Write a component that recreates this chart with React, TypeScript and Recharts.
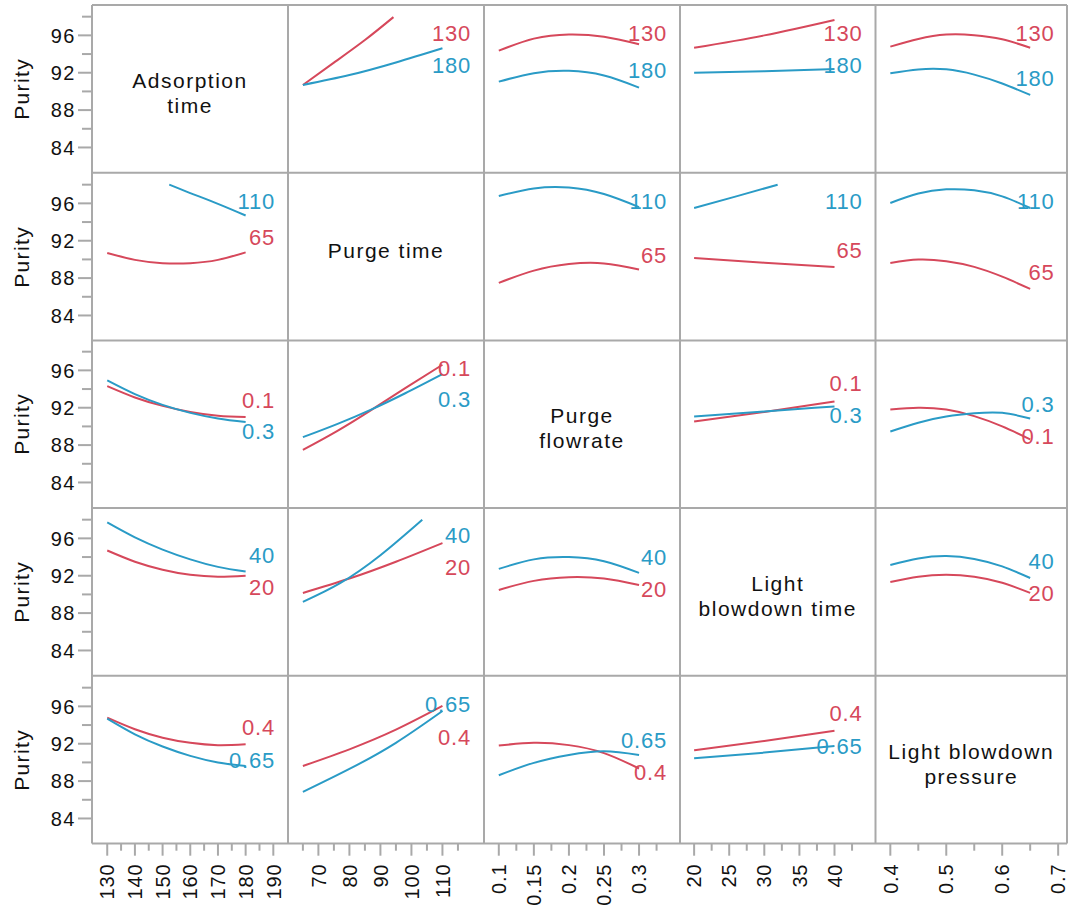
import React from "react";
import { LineChart, Line, XAxis, YAxis, ReferenceDot } from "recharts";

// Interaction profiles for Purity: row factor held at its low (red) / high (blue) level,
// column factor on the x axis. Points are [x, purity].
type Pt = [number, number];

const factorTitles = [
  ["Adsorption", "time"],
  ["Purge time"],
  ["Purge", "flowrate"],
  ["Light", "blowdown time"],
  ["Light blowdown", "pressure"],
];
const lowLevels = ["130", "65", "0.1", "20", "0.4"];
const highLevels = ["180", "110", "0.3", "40", "0.65"];

// Adsorption time 130 / 180
const adsLow: (Pt[] | null)[] = [
  null,
  [[65, 90.69], [75, 93.08], [85, 95.5], [94.2, 97.95]],
  [[0.1, 94.36], [0.15, 95.65], [0.2, 96.1], [0.25, 95.85], [0.3, 95.05]],
  [[20, 94.68], [30, 96.0], [40, 97.65]],
  [[0.4, 94.79], [0.45, 95.61], [0.5, 96.08], [0.55, 96.02], [0.6, 95.58], [0.65, 94.68]],
];
const adsHigh: (Pt[] | null)[] = [
  null,
  [[65, 90.69], [80, 91.75], [95, 93.1], [110, 94.62]],
  [[0.1, 91.05], [0.15, 91.95], [0.2, 92.2], [0.25, 91.7], [0.3, 90.41]],
  [[20, 92.01], [30, 92.15], [40, 92.4]],
  [[0.4, 91.94], [0.45, 92.35], [0.5, 92.36], [0.55, 91.8], [0.6, 90.85], [0.65, 89.62]],
];

// Purge time 65 / 110
const purgeLow: (Pt[] | null)[] = [
  [[130, 90.69], [140, 89.95], [150, 89.6], [160, 89.6], [170, 89.95], [180, 90.75]],
  null,
  [[0.1, 87.49], [0.15, 88.8], [0.2, 89.5], [0.25, 89.57], [0.3, 88.92]],
  [[20, 90.16], [30, 89.65], [40, 89.2]],
  [[0.4, 89.62], [0.45, 89.98], [0.5, 89.8], [0.55, 89.2], [0.6, 88.15], [0.65, 86.84]],
];
const purgeHigh: (Pt[] | null)[] = [
  [[152.4, 98.0], [160, 97.1], [170, 95.95], [180, 94.7]],
  null,
  [[0.1, 96.79], [0.15, 97.6], [0.2, 97.7], [0.25, 97.0], [0.3, 95.6]],
  [[20, 95.5], [26, 96.75], [31.9, 98.0]],
  [[0.4, 96.04], [0.45, 97.05], [0.5, 97.5], [0.55, 97.4], [0.6, 96.75], [0.65, 95.5]],
];

// Purge flowrate 0.1 / 0.3
const flowLow: (Pt[] | null)[] = [
  [[130, 94.31], [140, 93.1], [150, 92.2], [160, 91.55], [170, 91.15], [180, 91.0]],
  [[65, 87.49], [76, 89.5], [87, 91.75], [98, 94.1], [110, 96.6]],
  null,
  [[20, 90.53], [30, 91.55], [40, 92.67]],
  [[0.4, 91.82], [0.45, 92.0], [0.5, 91.8], [0.55, 91.1], [0.6, 90.0], [0.65, 88.61]],
];
const flowHigh: (Pt[] | null)[] = [
  [[130, 94.92], [140, 93.45], [150, 92.3], [160, 91.45], [170, 90.85], [180, 90.46]],
  [[65, 88.85], [76, 90.25], [87, 91.8], [98, 93.55], [110, 95.6]],
  null,
  [[20, 91.07], [30, 91.6], [40, 92.14]],
  [[0.4, 89.46], [0.45, 90.4], [0.5, 91.05], [0.55, 91.4], [0.6, 91.45], [0.65, 90.85]],
];

// Light blowdown time 20 / 40
const lbtLow: (Pt[] | null)[] = [
  [[130, 94.7], [140, 93.5], [150, 92.65], [160, 92.1], [170, 91.9], [180, 92.0]],
  [[65, 90.16], [80, 91.7], [95, 93.5], [110, 95.5]],
  [[0.1, 90.48], [0.15, 91.45], [0.2, 91.85], [0.25, 91.7], [0.3, 91.0]],
  null,
  [[0.4, 91.33], [0.45, 91.9], [0.5, 92.1], [0.55, 91.9], [0.6, 91.25], [0.65, 90.16]],
];
const lbtHigh: (Pt[] | null)[] = [
  [[130, 97.7], [140, 96.1], [150, 94.8], [160, 93.75], [170, 92.95], [180, 92.45]],
  [[65, 89.2], [77, 91.2], [90, 94.2], [103.5, 98.0]],
  [[0.1, 92.73], [0.15, 93.75], [0.2, 94.0], [0.25, 93.55], [0.3, 92.3]],
  null,
  [[0.4, 93.15], [0.45, 93.85], [0.5, 94.1], [0.55, 93.8], [0.6, 93.0], [0.65, 91.76]],
];

// Light blowdown pressure 0.4 / 0.65
const lbpLow: (Pt[] | null)[] = [
  [[130, 94.79], [140, 93.55], [150, 92.65], [160, 92.1], [170, 91.85], [180, 91.94]],
  [[65, 89.62], [80, 91.4], [95, 93.5], [110, 96.04]],
  [[0.1, 91.8], [0.15, 92.1], [0.2, 91.85], [0.25, 91.0], [0.3, 89.35]],
  [[20, 91.3], [30, 92.3], [40, 93.4]],
  null,
];
const lbpHigh: (Pt[] | null)[] = [
  [[130, 94.68], [140, 93.0], [150, 91.7], [160, 90.7], [170, 90.0], [180, 89.62]],
  [[65, 86.84], [80, 89.3], [95, 92.1], [110, 95.5]],
  [[0.1, 88.63], [0.15, 89.95], [0.2, 90.8], [0.25, 91.2], [0.3, 90.8]],
  [[20, 90.45], [30, 91.05], [40, 91.76]],
  null,
];

const lowRows = [adsLow, purgeLow, flowLow, lbtLow, lbpLow];
const highRows = [adsHigh, purgeHigh, flowHigh, lbtHigh, lbpHigh];

// where the level names sit (purity units), per row / column
const lowLabelY = [
  [0, 96.25, 96.25, 96.25, 96.25],
  [92.37, 0, 90.44, 90.98, 88.62],
  [92.76, 96.19, 0, 94.58, 88.92],
  [90.81, 92.95, 90.59, 0, 90.17],
  [93.77, 92.7, 88.96, 95.27, 0],
];
const highLabelY = [
  [0, 92.83, 92.3, 92.83, 91.44],
  [96.22, 0, 96.22, 96.22, 96.22],
  [89.45, 92.87, 0, 91.16, 92.34],
  [94.23, 96.37, 94.02, 0, 93.59],
  [90.24, 96.23, 92.38, 91.74, 0],
];

// axes
const yDomain: [number, number] = [81.3, 99.25];
const yTicks = [84, 86, 88, 90, 92, 94, 96, 98];
const yMajor = [84, 88, 92, 96];

const xDomains: [number, number][] = [
  [124.5, 195.3],
  [60.2, 123.4],
  [0.0789, 0.3584],
  [17.99, 45.84],
  [0.3744, 0.7167],
];
const xTicks = [
  [130, 135, 140, 145, 150, 155, 160, 165, 170, 175, 180, 185, 190],
  [65, 70, 75, 80, 85, 90, 95, 100, 105, 110, 115],
  [0.1, 0.125, 0.15, 0.175, 0.2, 0.225, 0.25, 0.275, 0.3, 0.325],
  [20, 22.5, 25, 27.5, 30, 32.5, 35, 37.5, 40, 42.5],
  [0.4, 0.45, 0.5, 0.55, 0.6, 0.65, 0.7],
];
const xMajor = [
  ["130", "140", "150", "160", "170", "180", "190"],
  ["70", "80", "90", "100", "110"],
  ["0.1", "0.15", "0.2", "0.25", "0.3"],
  ["20", "25", "30", "35", "40"],
  ["0.4", "0.5", "0.6", "0.7"],
];

const RED = "#d6485b";
const BLUE = "#2a9bc6";
const FRAME = "#a9a9a9";
const FONT = "'Liberation Sans', Arial, sans-serif";

const colX = [92, 288, 484, 680, 875.5, 1067];
const rowY = [5, 172.7, 340.4, 508.1, 675.8, 843.5];
const Y_AXIS_W = colX[0];
const X_AXIS_H = 910 - rowY[5];
const titleOffset = [4, -6, 4, 4, 4];

const toRows = (pts: Pt[]) => pts.map(([x, y]) => ({ x, y }));
const fmt = (v: number) => String(+v.toFixed(3));

const YTick = (props: any) => {
  const { x, y, payload } = props;
  const major = yMajor.includes(payload.value);
  return (
    <g>
      <line x1={x - (major ? 14 : 10)} x2={x} y1={y} y2={y} stroke={FRAME} strokeWidth={2} />
      {major && (
        <text x={x - 16} y={y} dy="0.36em" textAnchor="end" fontSize={20} fill="#111" style={{ letterSpacing: 1.5 }}>
          {payload.value}
        </text>
      )}
    </g>
  );
};

const makeXTick = (col: number) => (props: any) => {
  const { x, y, payload } = props;
  const label = fmt(payload.value);
  const major = xMajor[col].includes(label);
  const ty = y + 20;
  return (
    <g>
      <line x1={x} x2={x} y1={y} y2={y + (major ? 12 : 7)} stroke={FRAME} strokeWidth={2} />
      {major && (
        <text
          x={x}
          y={ty}
          dy="0.36em"
          textAnchor="end"
          fontSize={20}
          fill="#111"
          transform={`rotate(-90, ${x}, ${ty})`}
          style={{ letterSpacing: 0.8 }}
        >
          {label}
        </text>
      )}
    </g>
  );
};

function Panel({ row, col }: { row: number; col: number }) {
  const isLeft = col === 0;
  const isBottom = row === 4;
  const isRight = col === 4;
  const padRight = isRight ? 2 : 0;
  const w = colX[col + 1] - colX[col] + (isLeft ? Y_AXIS_W : 0) + padRight;
  const h = rowY[row + 1] - rowY[row] + (isBottom ? X_AXIS_H : 0);
  const low = lowRows[row][col];
  const high = highRows[row][col];
  const xMax = xDomains[col][1];

  return (
    <div style={{ position: "absolute", left: isLeft ? 0 : colX[col], top: rowY[row] }}>
      <LineChart width={w} height={h} margin={{ top: 0, right: padRight, bottom: 0, left: 0 }}>
        <XAxis
          dataKey="x"
          type="number"
          domain={xDomains[col]}
          allowDataOverflow
          hide={!isBottom}
          height={isBottom ? X_AXIS_H : 0}
          ticks={xTicks[col]}
          interval={0}
          tickSize={0}
          tickMargin={0}
          axisLine={false}
          tickLine={false}
          tick={makeXTick(col)}
        />
        <YAxis
          type="number"
          domain={yDomain}
          allowDataOverflow
          hide={!isLeft}
          width={isLeft ? Y_AXIS_W : 0}
          ticks={yTicks}
          interval={0}
          tickSize={0}
          tickMargin={0}
          axisLine={false}
          tickLine={false}
          tick={<YTick />}
          label={
            isLeft
              ? { value: "Purity", angle: -90, position: "insideLeft", offset: 22, fontSize: 21, fill: "#111", style: { textAnchor: "middle", letterSpacing: 1.4 } }
              : undefined
          }
        />
        {low && (
          <Line data={toRows(low)} dataKey="y" type="natural" stroke={RED} strokeWidth={2} dot={false} isAnimationActive={false} />
        )}
        {high && (
          <Line data={toRows(high)} dataKey="y" type="natural" stroke={BLUE} strokeWidth={2} dot={false} isAnimationActive={false} />
        )}
        {low && (
          <ReferenceDot
            x={xMax}
            y={lowLabelY[row][col]}
            r={0}
            fill="none"
            stroke="none"
            label={{ value: lowLevels[row], position: "left", offset: 13, fill: RED, fontSize: 22, className: "lvl" }}
          />
        )}
        {high && (
          <ReferenceDot
            x={xMax}
            y={highLabelY[row][col]}
            r={0}
            fill="none"
            stroke="none"
            label={{ value: highLevels[row], position: "left", offset: 13, fill: BLUE, fontSize: 22, className: "lvl" }}
          />
        )}
      </LineChart>
    </div>
  );
}

function Title({ idx }: { idx: number }) {
  const left = colX[idx];
  const top = rowY[idx];
  const w = colX[idx + 1] - left;
  const h = rowY[idx + 1] - top;
  return (
    <div
      style={{
        position: "absolute",
        left,
        top: top + titleOffset[idx],
        width: w,
        height: h,
        display: "flex",
        flexDirection: "column",
        justifyContent: "center",
        alignItems: "center",
        fontSize: 21,
        lineHeight: "25px",
        letterSpacing: 1.5,
        color: "#111",
        textAlign: "center",
      }}
    >
      {factorTitles[idx].map((t) => (
        <div key={t}>{t}</div>
      ))}
    </div>
  );
}

export default function App() {
  const idx = [0, 1, 2, 3, 4];
  return (
    <div
      style={{
        position: "absolute",
        left: 0,
        top: 0,
        width: 1069,
        height: 910,
        background: "#fff",
        fontFamily: FONT,
        overflow: "hidden",
      }}
    >
      <style>{`.lvl { letter-spacing: 0.8px; }`}</style>
      {idx.map((r) => idx.map((c) => <Panel key={`${r}-${c}`} row={r} col={c} />))}
      {idx.map((i) => (
        <Title key={i} idx={i} />
      ))}
      <svg width={1069} height={910} style={{ position: "absolute", left: 0, top: 0, pointerEvents: "none" }}>
        {colX.map((x) => (
          <line key={`v${x}`} x1={x} x2={x} y1={rowY[0]} y2={rowY[5]} stroke={FRAME} strokeWidth={2} />
        ))}
        {rowY.map((y) => (
          <line key={`h${y}`} x1={colX[0]} x2={colX[5]} y1={y} y2={y} stroke={FRAME} strokeWidth={2} />
        ))}
      </svg>
    </div>
  );
}
